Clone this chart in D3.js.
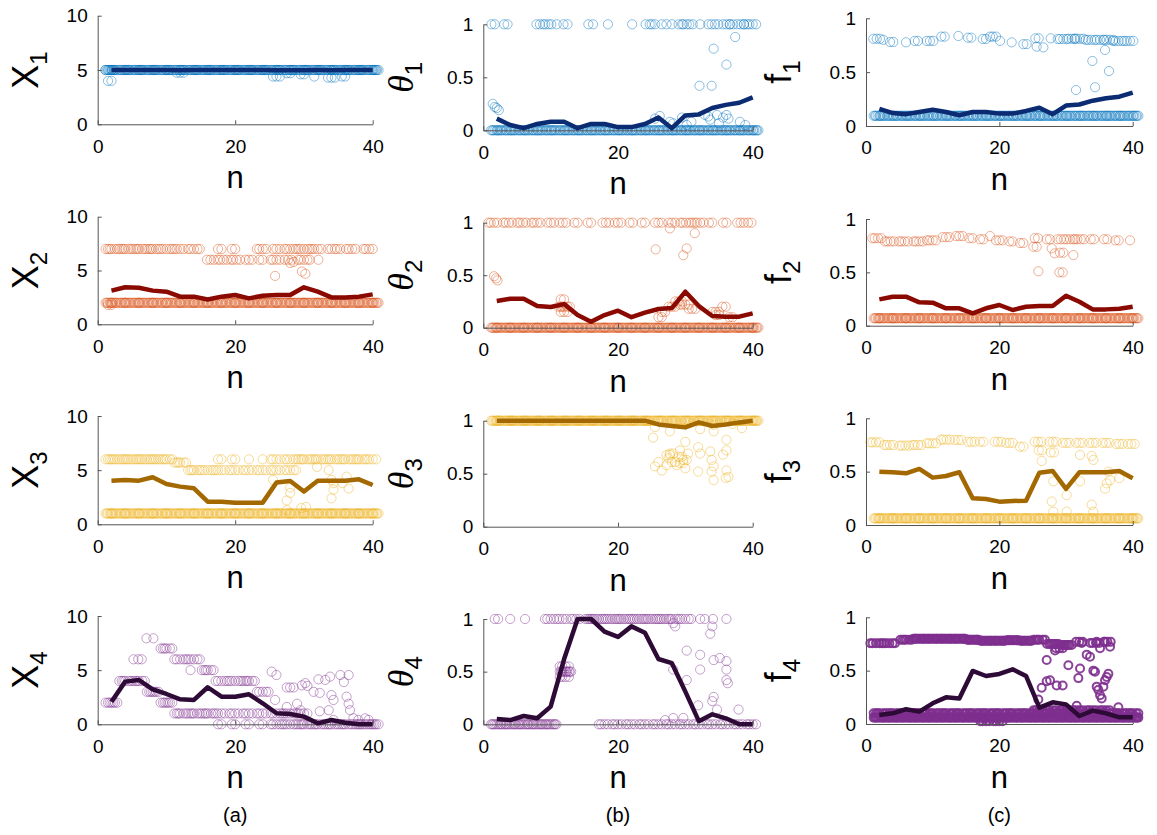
<!DOCTYPE html>
<html>
<head>
<meta charset="utf-8">
<script src="https://cdn.jsdelivr.net/npm/d3@7"></script>
<style>
  html, body { margin: 0; padding: 0; background: #fff; }
  svg { display: block; }
  text { font-family: "Liberation Sans", Arial, Helvetica, sans-serif; fill: #000; }
</style>
</head>
<body>
<script>
// Sample index n at which every estimator is evaluated
const nValues = [2, 4, 6, 8, 10, 12, 14, 16, 18, 20, 22, 24, 26, 28, 30, 32, 34, 36, 38, 40];
const xTicks = [0, 20, 40];
const xTicksLabels = ["0", "20", "40"];
const yTicksX = [0, 5, 10];
const yTicksUnit = [0, 0.5, 1];
const columnCaptions = ["(a)", "(b)", "(c)"];

// Mean curves (thick lines), one value per n
const meanX1 = [5, 5, 5, 5, 5, 4.97, 5, 5, 5, 5, 5, 5, 4.98, 4.98, 4.98, 4.99, 4.98, 4.99, 5, 5];
const meanTheta1 = [0.11, 0.05, 0.02, 0.06, 0.08, 0.08, 0.02, 0.06, 0.06, 0.03, 0.03, 0.06, 0.12, 0.02, 0.14, 0.15, 0.21, 0.24, 0.26, 0.31];
const meanF1 = [0.16, 0.12, 0.11, 0.13, 0.15, 0.13, 0.10, 0.13, 0.13, 0.115, 0.115, 0.14, 0.17, 0.11, 0.19, 0.20, 0.235, 0.257, 0.272, 0.31];
const meanX2 = [3.13, 3.44, 3.4, 3.13, 3.03, 2.57, 2.57, 2.3, 2.57, 2.72, 2.41, 2.66, 2.72, 2.72, 3.44, 3.03, 2.5, 2.5, 2.57, 2.78];
const meanTheta2 = [0.254, 0.276, 0.276, 0.206, 0.197, 0.225, 0.12, 0.057, 0.12, 0.162, 0.10, 0.143, 0.178, 0.187, 0.343, 0.206, 0.111, 0.105, 0.105, 0.137];
const meanF2 = [0.247, 0.272, 0.272, 0.219, 0.216, 0.163, 0.163, 0.116, 0.163, 0.194, 0.147, 0.178, 0.184, 0.184, 0.281, 0.225, 0.153, 0.153, 0.159, 0.178];
const meanX3 = [4.03, 4.09, 4.03, 4.34, 3.72, 3.48, 3.32, 2.09, 2.09, 2.0, 2.0, 2.0, 3.85, 4.0, 3.02, 4.03, 4.03, 4.03, 4.15, 3.63];
const meanTheta3 = [1, 1, 1, 1, 1, 1, 1, 1, 1, 1, 1, 1, 0.965, 0.95, 0.937, 0.984, 0.95, 0.965, 0.984, 1];
const meanF3 = [0.5, 0.494, 0.484, 0.525, 0.444, 0.459, 0.494, 0.25, 0.244, 0.219, 0.225, 0.228, 0.49, 0.506, 0.338, 0.494, 0.494, 0.494, 0.506, 0.4375];
const meanX4 = [2.09, 3.94, 4.09, 3.23, 2.8, 2.31, 2.25, 3.42, 2.55, 2.55, 2.77, 1.94, 1.02, 0.95, 0.71, 0.09, 0.4, 0.15, 0, 0];
const meanTheta4 = [0.05, 0.04, 0.079, 0.057, 0.168, 0.62, 1, 1, 0.88, 0.83, 0.93, 0.87, 0.62, 0.58, 0.31, 0.03, 0.095, 0.057, 0, 0];
const meanF4 = [0.084, 0.1, 0.138, 0.116, 0.194, 0.25, 0.24, 0.497, 0.45, 0.469, 0.5125, 0.45, 0.153, 0.203, 0.184, 0.075, 0.125, 0.1, 0.0625, 0.0625];

// Individual runs: [n, value, repeats]; repeated runs at the same n are spread
// sideways by these offsets so that they stay visible.
const sideOffsets = [0, -0.5, 0.5, -0.85, 0.85, -0.25, 0.25, -0.65, 0.65, 0.1, -0.1, 0.4];
const band = (ns, v, k) => ns.map(n => [n, v, k]);

const samplesX1 = [
  ...band(nValues, 5, 12), [1.6, 5, 3],
  [2, 4.0, 2], [12, 4.75, 3], [26, 4.4, 3], [28, 4.7, 2], [30, 4.6, 2], [31.5, 4.4, 1], [34, 4.3, 3], [36, 4.4, 2]
];
const samplesTheta1 = [
  ...band(nValues, 0, 10),
  [1.2, 1, 1], [1.7, 1, 1], [3.6, 1, 2], [7.9, 1, 1], [8.4, 1, 1], [8.9, 1, 1], [9.7, 1, 2], [10.1, 1, 1], [10.9, 1, 1],
  [11.9, 1, 1], [12.5, 1, 1], [15.6, 1, 1], [16.3, 1, 1], [18.5, 1, 1], [22.1, 1, 1], [24.1, 1, 1], [24.7, 1, 1],
  [25.5, 1, 2], [26.5, 1, 1], [27.2, 1, 1], [28, 1, 1], [29.5, 1, 2], [30.2, 1, 2], [31.1, 1, 2], [32.2, 1, 1],
  [33.9, 1, 2], [34.9, 1, 2], [36.1, 1, 3], [37.1, 1, 2], [38.2, 1, 3], [39.2, 1, 2], [40, 1, 3],
  [1.4, 0.25, 1], [1.7, 0.22, 1], [2, 0.21, 1], [2.3, 0.19, 1], [25.5, 0.11, 1], [26.2, 0.135, 1], [27.7, 0.08, 1],
  [28.2, 0.066, 1], [29.5, 0.12, 1], [30.2, 0.05, 1], [30.9, 0.08, 1], [32.1, 0.42, 1], [32.9, 0.145, 1], [33.4, 0.13, 1],
  [33.7, 0.1, 1], [33.9, 0.42, 1], [34.2, 0.77, 1], [34.7, 0.145, 1], [35.6, 0.12, 1], [36.1, 0.62, 1], [36.1, 0.145, 1],
  [36.4, 0.11, 1], [37.4, 0.88, 1], [38.1, 0.08, 1], [38.9, 0.05, 1], [35, 0.066, 1]
];
const samplesF1 = [
  ...band(nValues, 0.095, 10),
  [1.6, 0.81, 3], [2.6, 0.8, 1], [4.1, 0.78, 2], [6, 0.777, 1], [7.8, 0.79, 2], [9.6, 0.79, 3], [11.8, 0.83, 2],
  [13.85, 0.836, 1], [15.8, 0.82, 2], [18, 0.808, 2], [18.6, 0.83, 1], [19.5, 0.83, 2], [20.1, 0.79, 1], [21.85, 0.777, 1],
  [24.1, 0.76, 2], [25.9, 0.814, 2], [25.6, 0.737, 1], [26.6, 0.73, 1], [27.7, 0.814, 1], [29.6, 0.808, 4], [30.85, 0.81, 3],
  [32.1, 0.81, 4], [33.8, 0.8, 4], [35.1, 0.8, 3], [36.6, 0.8, 4], [37.9, 0.79, 4], [39.6, 0.79, 4],
  [35.85, 0.706, 1], [33.95, 0.604, 1], [36.45, 0.51, 1], [34.35, 0.36, 1], [31.5, 0.334, 1]
];
const samplesX2 = [
  ...band(nValues, 2, 11), [2, 1.8, 2],
  [2, 7, 6], [4, 7, 6], [6, 7, 6], [8, 7, 6], [10, 7, 5], [12, 7, 4], [14, 7, 5], [18, 7, 2], [20, 7, 2], [24, 7, 4],
  [26, 7, 3], [28, 7, 5], [30, 7, 5], [32, 7, 4], [34, 7, 3], [35.3, 7, 2], [37, 7, 4], [39.5, 7, 4],
  [16.4, 6, 3], [18.3, 6, 4], [20.2, 6, 4], [22, 6, 3], [24, 6, 2], [26, 6, 4], [27.7, 6, 3], [30, 6, 5], [32.1, 6, 1],
  [25.8, 4.5, 1], [29.7, 4.9, 1], [30.2, 4.7, 1], [28, 5.7, 1], [28.5, 5.8, 1]
];
const samplesTheta2 = [
  ...band(nValues, 0, 11),
  [1.6, 1, 4], [3.8, 1, 4], [5.9, 1, 4], [8, 1, 4], [10, 1, 3], [11.8, 1, 3], [14, 1, 2], [16, 1, 2], [18.2, 1, 3],
  [20, 1, 3], [22.2, 1, 2], [24, 1, 2], [26, 1, 3], [28, 1, 3], [30.1, 1, 5], [32.2, 1, 4], [34, 1, 2], [36.1, 1, 2],
  [38.2, 1, 3], [39.8, 1, 2],
  [1.6, 0.49, 1], [1.9, 0.47, 1], [2.1, 0.45, 1], [12, 0.2, 6], [12, 0.15, 3], [12, 0.27, 2], [25.6, 0.746, 1],
  [27.7, 0.946, 1], [29.7, 0.69, 1], [30.2, 0.755, 1], [31.4, 0.9, 1], [28, 0.2, 3], [29, 0.25, 3], [30, 0.22, 4],
  [31, 0.18, 3], [27, 0.15, 2], [26.5, 0.1, 2], [34.5, 0.15, 3], [36, 0.2, 2], [35, 0.12, 2], [37, 0.1, 2]
];
const samplesF2 = [
  ...band(nValues, 0.07, 11),
  [1.8, 0.82, 4], [3.7, 0.79, 4], [5.8, 0.79, 4], [8, 0.79, 4], [10, 0.8, 4], [12, 0.83, 3], [14, 0.84, 3], [16, 0.82, 2],
  [17.6, 0.81, 2], [18.6, 0.84, 1], [20, 0.8, 3], [22, 0.79, 2], [23.6, 0.775, 2], [25.8, 0.82, 2], [27.6, 0.81, 2],
  [29.2, 0.81, 3], [30.6, 0.81, 3], [32.2, 0.81, 4], [34.2, 0.81, 2], [36.2, 0.81, 2], [37.9, 0.8, 2], [39.6, 0.8, 1],
  [25.6, 0.74, 2], [27.85, 0.725, 1], [28.3, 0.678, 1], [29.6, 0.684, 2], [31.1, 0.662, 1], [25.85, 0.51, 1], [29.5, 0.5, 2]
];
const samplesX3 = [
  ...band(nValues, 1, 11),
  [2, 6, 7], [4, 6, 7], [6, 6, 7], [8, 6, 7], [10, 6, 6], [12, 5.7, 6],
  [14, 5, 6], [16, 5, 5], [18, 5, 4], [20, 5, 4], [22, 5, 4], [24, 5, 4], [26, 5, 4], [28, 5, 5],
  [18, 6, 2], [20, 6, 2], [22, 6, 1], [24, 6, 1],
  [26, 6, 4], [28, 6, 5], [30, 6, 6], [32, 6, 6], [34, 6, 6], [36, 6, 6], [38, 6, 6], [40, 6, 4],
  [27.5, 2.2, 1], [28, 2.9, 1], [31.9, 5.3, 1], [33.6, 5, 1], [34, 4.1, 1], [34.3, 3.8, 1], [34, 2.4, 1], [34.3, 3.2, 1],
  [36.2, 4.4, 1], [36.5, 3.3, 1], [35.6, 3.8, 1], [25.5, 4.1, 1], [27.5, 1.3, 1], [29.6, 1.5, 1], [30.3, 1.6, 1], [28, 3.4, 1]
];
const samplesTheta3 = [
  ...band(nValues, 1, 12),
  [25.2, 0.84, 1], [25.5, 0.57, 1], [26, 0.61, 1], [26.5, 0.53, 1], [27.2, 0.58, 1], [27.5, 0.645, 1], [27.7, 0.676, 2],
  [28.2, 0.69, 2], [28.5, 0.61, 2], [28.7, 0.58, 1], [29.2, 0.72, 1], [29.5, 0.66, 2], [29.7, 0.6, 2], [30, 0.55, 1],
  [30.2, 0.63, 2], [30, 0.8, 1], [30.4, 0.69, 1], [31.9, 0.75, 1], [32.2, 0.69, 1], [31.9, 0.52, 1], [33.7, 0.71, 1],
  [33.9, 0.63, 1], [34.2, 0.57, 1], [33.9, 0.52, 1], [34.2, 0.44, 1], [34.2, 0.9, 1], [35.6, 0.68, 1], [36.1, 0.72, 1],
  [36.1, 0.82, 1], [36.1, 0.53, 1], [36.4, 0.47, 1], [36.0, 0.46, 1], [38.4, 0.93, 1], [25.5, 0.94, 1], [27.7, 0.9, 1],
  [32.2, 0.92, 1], [34.2, 0.96, 1], [37, 0.97, 1]
];
const samplesF3 = [
  ...band(nValues, 0.0625, 11),
  [1.5, 0.775, 4], [3.6, 0.75, 4], [5.9, 0.744, 4], [7.8, 0.75, 4], [10, 0.766, 4], [12.1, 0.8, 4], [13.8, 0.797, 3],
  [15.8, 0.78, 3], [17.6, 0.78, 2], [19.8, 0.78, 3], [21.5, 0.77, 3], [23.6, 0.734, 2], [25.8, 0.78, 3], [26.4, 0.70, 2],
  [28, 0.78, 3], [28.2, 0.68, 2], [30, 0.77, 3], [32, 0.77, 3], [34, 0.77, 3], [36, 0.77, 3], [38, 0.76, 3], [39.8, 0.76, 3],
  [26.35, 0.6, 1], [28.1, 0.41, 1], [27.85, 0.22, 1], [28.1, 0.125, 1], [30.1, 0.28, 1], [30.1, 0.125, 1], [32.1, 0.656, 1],
  [32.1, 0.41, 1], [33.85, 0.647, 1], [34.1, 0.61, 1], [33.85, 0.19, 1], [34.1, 0.125, 1], [36.1, 0.39, 1], [35.85, 0.34, 1],
  [36.35, 0.5, 1], [36.6, 0.42, 1], [38, 0.44, 1]
];
const samplesX4 = [
  [2, 2, 7], [4, 4, 6], [6, 4, 6], [5.2, 6, 1], [5.9, 6, 1], [6.4, 6, 1], [7.1, 7.94, 1], [8.1, 7.94, 1], [8, 3, 7],
  [10, 7, 6], [10, 2, 7], [12, 6, 5], [14, 6, 5], [13.5, 5, 1], [16, 5, 6], [12, 1, 6], [14, 1, 6], [16, 1, 6],
  [18, 4, 5], [20, 4, 5], [22, 4, 6], [24, 3, 5], [18, 1, 4], [20, 1, 4], [22, 1, 4], [24, 1, 4], [26, 1, 5], [28, 1, 5],
  [30, 1, 4], [18, 0, 2], [20, 0, 2], [22, 0, 2], [24, 0, 2], [26, 0, 5], [28, 0, 5], [30, 0, 6], [32, 0, 6], [34, 0, 6],
  [36, 0, 6], [38, 0, 7], [40, 0, 7],
  [25.3, 4.86, 1], [26, 4.55, 1], [28, 3.4, 3], [29.7, 3.6, 1], [30.2, 3.8, 1], [30.5, 3.55, 1], [25.8, 2.25, 1],
  [27.5, 1.6, 1], [29, 1.9, 1], [29.5, 1.3, 1], [31.4, 3.0, 1], [32.1, 4.15, 1], [32.3, 2.9, 1], [33.1, 4.1, 1],
  [33.8, 4.4, 1], [34, 2.7, 1], [34.3, 2.25, 1], [33.6, 1.3, 1], [35.3, 4.55, 1], [35.8, 3.9, 1], [36.5, 4.55, 1],
  [36.2, 2.55, 1], [36.5, 1.9, 1], [36.7, 1.3, 1], [37.2, 0.55, 1], [37.9, 0.4, 1], [38.9, 0.55, 1], [39.4, 0.4, 1],
  [34.3, 0.4, 1], [32.3, 1.2, 1]
];
const samplesTheta4 = [
  ...band([2, 4, 6, 8, 10], 0, 9),
  ...band([18, 20, 22, 24, 26, 28, 30, 32, 34, 36, 38, 40], 0, 4),
  [1.7, 1, 1], [2.2, 1, 1], [4, 1, 1], [6.2, 1, 1], [10, 1, 4], [11.8, 1, 4], [13.8, 1, 4], [16, 1, 7], [18, 1, 7],
  [20, 1, 7], [22, 1, 7], [24, 1, 7], [26, 1, 7], [28, 1, 6], [30, 1, 5], [32.2, 1, 1], [32.9, 1, 1], [34.1, 1, 1], [36.1, 1, 1],
  [12.2, 0.5, 10], [12.2, 0.55, 4], [12.2, 0.45, 4],
  [28.2, 0.96, 1], [28.5, 0.93, 1], [30.2, 0.7, 1], [30.2, 0.42, 1], [28.2, 0.52, 1], [32.2, 0.66, 1], [32.2, 0.52, 1],
  [31.9, 0.18, 1], [33.7, 0.86, 1], [34, 0.93, 1], [34.2, 0.61, 1], [34, 0.22, 1], [34.2, 0.26, 1], [34.7, 0.14, 1],
  [35.1, 0.63, 1], [36.1, 0.6, 1], [36.1, 0.52, 1], [36.1, 0.42, 1], [36.3, 0.39, 1], [37.9, 0.14, 1], [29.7, 0.06, 1],
  [28.2, 0.06, 1], [27, 0.04, 1]
];
const samplesF4 = [
  [1.5, 0.756, 5], [3.5, 0.756, 5], [6, 0.79, 6], [8, 0.8, 9], [10, 0.8, 9], [12, 0.8, 9], [14, 0.8, 9], [16, 0.79, 9],
  [18, 0.78, 9], [20, 0.78, 9], [22, 0.785, 9], [24, 0.78, 9], [26, 0.79, 6], [28, 0.75, 7], [30, 0.74, 7], [29, 0.71, 3],
  [32, 0.77, 3], [34.5, 0.76, 4], [36.2, 0.77, 3],
  ...band(nValues, 0.06, 9), ...band(nValues, 0.1, 6), ...band([26, 28, 30, 32, 34, 36], 0.13, 4),
  [18, 0.025, 4], [20, 0.025, 4],
  [25.85, 0.23, 1], [26.35, 0.34, 1], [27.1, 0.4, 1], [27.6, 0.41, 1], [27.1, 0.6, 1], [28.35, 0.69, 1], [28.6, 0.36, 1],
  [29.5, 0.36, 1], [30.35, 0.55, 1], [31.6, 0.17, 1], [32.1, 0.52, 1], [31.85, 0.43, 1], [32.35, 0.76, 1], [33.1, 0.65, 1],
  [33.6, 0.63, 1], [34.1, 0.5, 1], [34.35, 0.49, 1], [34.6, 0.35, 1], [34.85, 0.32, 1], [35.1, 0.27, 1], [35.35, 0.24, 1],
  [35.6, 0.35, 1], [35.85, 0.41, 1], [36.1, 0.44, 1], [36.35, 0.47, 1], [36.6, 0.725, 1], [35.85, 0.77, 1], [34.6, 0.77, 1],
  [35.1, 0.71, 1], [37.85, 0.156, 1]
];

// Colours per component (rows)
const runColors = ["#0072BD", "#D95319", "#EDB120", "#7E2F8E"];
const meanColors = ["#0b2b72", "#8a0a02", "#a36800", "#2e0b36"];

// Page layout: plot boxes per column and row
const colX = [[97.7, 372.7], [483.3, 752.7], [866, 1132.7]];
const rowY = [
  [[15.7, 124.3], [216.7, 324.3], [416, 524.3], [616, 724.3]],
  [[24.3, 130.3], [222.7, 327.7], [420.7, 526.7], [619, 724.3]],
  [[18.3, 126], [219, 325.7], [418.3, 525], [617.3, 724]]
];
const labelX = [38, 413, 791];

const panels = [
  { col: 0, row: 0, sym: "X", yMax: 10, yTicks: yTicksX, mean: meanX1, runs: samplesX1 },
  { col: 1, row: 0, sym: "θ", yMax: 1, yTicks: yTicksUnit, mean: meanTheta1, runs: samplesTheta1 },
  { col: 2, row: 0, sym: "f", yMax: 1, yTicks: yTicksUnit, mean: meanF1, runs: samplesF1 },
  { col: 0, row: 1, sym: "X", yMax: 10, yTicks: yTicksX, mean: meanX2, runs: samplesX2 },
  { col: 1, row: 1, sym: "θ", yMax: 1, yTicks: yTicksUnit, mean: meanTheta2, runs: samplesTheta2 },
  { col: 2, row: 1, sym: "f", yMax: 1, yTicks: yTicksUnit, mean: meanF2, runs: samplesF2 },
  { col: 0, row: 2, sym: "X", yMax: 10, yTicks: yTicksX, mean: meanX3, runs: samplesX3 },
  { col: 1, row: 2, sym: "θ", yMax: 1, yTicks: yTicksUnit, mean: meanTheta3, runs: samplesTheta3 },
  { col: 2, row: 2, sym: "f", yMax: 1, yTicks: yTicksUnit, mean: meanF3, runs: samplesF3 },
  { col: 0, row: 3, sym: "X", yMax: 10, yTicks: yTicksX, mean: meanX4, runs: samplesX4 },
  { col: 1, row: 3, sym: "θ", yMax: 1, yTicks: yTicksUnit, mean: meanTheta4, runs: samplesTheta4 },
  { col: 2, row: 3, sym: "f", yMax: 1, yTicks: yTicksUnit, mean: meanF4, runs: samplesF4, bold: true }
];

const W = 1157, H = 835;
const svg = d3.select("body").append("svg").attr("width", W).attr("height", H);

panels.forEach(p => {
  const [x0, x1] = colX[p.col];
  const [yt, yb] = rowY[p.col][p.row];
  const x = d3.scaleLinear().domain([0, 40]).range([x0, x1]);
  const y = d3.scaleLinear().domain([0, p.yMax]).range([yb, yt]);
  const g = svg.append("g");

  // individual runs as open circles
  const pts = p.runs.flatMap(([n, v, k]) => d3.range(k).map(i => [n + sideOffsets[i], v]));
  g.append("g").selectAll("circle").data(pts).join("circle")
    .attr("cx", d => x(d[0]))
    .attr("cy", d => y(d[1]))
    .attr("r", p.bold ? 4 : 4.6)
    .attr("fill", "none")
    .attr("stroke", runColors[p.row])
    .attr("stroke-width", p.bold ? 2 : 1)
    .attr("stroke-opacity", p.bold ? 0.9 : 0.45);

  // axes with inward ticks
  const xAxis = d3.axisBottom(x).tickValues(xTicks).tickFormat((d, i) => xTicksLabels[i])
    .tickSizeInner(-4).tickSizeOuter(0).tickPadding(15);
  const yAxis = d3.axisLeft(y).tickValues(p.yTicks).tickFormat(d3.format("~g"))
    .tickSizeInner(-4).tickSizeOuter(0).tickPadding(10);
  const gx = g.append("g").attr("transform", `translate(0,${yb})`).call(xAxis);
  const gy = g.append("g").attr("transform", `translate(${x0},0)`).call(yAxis);
  [gx, gy].forEach(a => {
    a.select(".domain").attr("stroke", "#555").attr("stroke-width", 1);
    a.selectAll(".tick line").attr("stroke", "#555");
    a.selectAll(".tick text").attr("font-size", 19).attr("font-family", "Liberation Sans, Arial, sans-serif").attr("fill", "#000");
  });

  // mean curve
  const line = d3.line().x((d, i) => x(nValues[i])).y(d => y(d));
  g.append("path").datum(p.mean)
    .attr("d", line)
    .attr("fill", "none")
    .attr("stroke", meanColors[p.row])
    .attr("stroke-width", 4.5)
    .attr("stroke-linejoin", "round");

  // axis titles
  g.append("text").attr("x", (x0 + x1) / 2).attr("y", yb + 64)
    .attr("text-anchor", "middle").attr("font-size", 31).text("n");

  const yl = g.append("text")
    .attr("transform", `translate(${labelX[p.col]},${(yt + yb) / 2}) rotate(-90)`)
    .attr("text-anchor", "middle");
  const main = yl.append("tspan").attr("font-size", 36).text(p.sym);
  if (p.sym === "θ") main.attr("font-family", "Liberation Serif, Times New Roman, serif").attr("font-style", "italic");
  yl.append("tspan").attr("font-size", 24).attr("dy", 9).text(String(p.row + 1));
});

// column captions
columnCaptions.forEach((c, i) => {
  const [x0, x1] = colX[i];
  svg.append("text").attr("x", (x0 + x1) / 2).attr("y", 822)
    .attr("text-anchor", "middle").attr("font-size", 20).text(c);
});
</script>
</body>
</html>
